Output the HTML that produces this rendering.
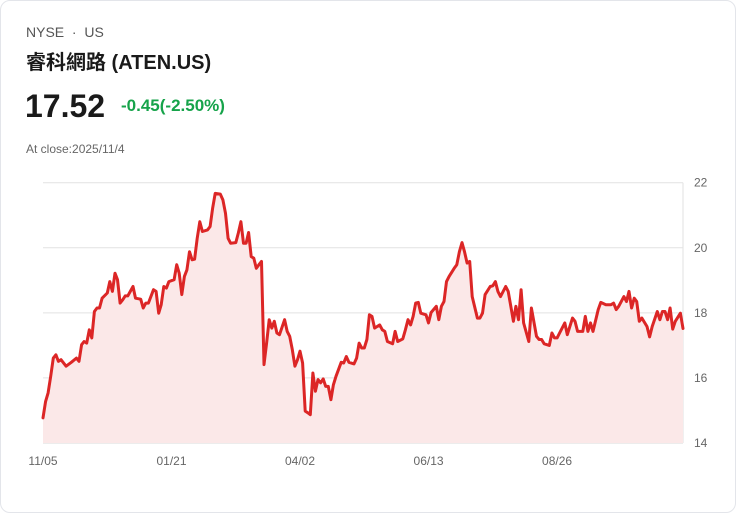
<!DOCTYPE html>
<html><head><meta charset="utf-8">
<style>
body{margin:0;background:#fff;font-family:"Liberation Sans","Noto Sans CJK TC",sans-serif;}
#card{position:absolute;left:0;top:0;width:734px;height:511px;border:1px solid #e3e5ea;border-radius:10px;background:#fff;}
.t{position:absolute;white-space:nowrap;}
</style></head><body>
<div id="card">
<div class="t" style="left:25px;top:23px;font-size:14px;color:#555;">NYSE &nbsp;·&nbsp; US</div>
<div class="t" style="left:25px;top:45px;font-size:20px;font-weight:bold;color:#1a1a1a;">睿科網路 (ATEN.US)</div>
<div class="t" style="left:24px;top:87px;font-size:32px;font-weight:bold;color:#1a1a1a;">17.52</div>
<div class="t" style="left:120px;top:95px;font-size:17px;font-weight:bold;color:#16a34a;">-0.45(-2.50%)</div>
<div class="t" style="left:25px;top:141px;font-size:12px;color:#666;">At close:2025/11/4</div>
<svg id="chart" width="736" height="513" style="position:absolute;left:-1px;top:-1px;"></svg>
</div>
<script>
const days=[0,1,2,3,4,5,6,7,9,11,13,14,15,16,17,18,19,20,21,22,23,25,26,27,28,29,30,31,32,33,35,36,38,39,40,41,43,44,45,46,47,48,49,51,52,53,54,55,56,57,58,59,60,61,62,64,65,66,67,69,70,71,72,73,75,76,77,78,79,80,81,82,83,84,85,86,87,88,89,90,91,92,94,95,96,97,98,99,100,101,102,103,104,105,106,107,108,109,110,111,112,113,114,116,117,118,119,121,122,123,124,125,126,127,128,129,131,132,133,134,136,137,138,140,141,142,143,144,145,146,147,149,150,151,153,154,155,156,157,158,160,161,162,163,164,165,166,167,169,170,171,172,174,175,176,177,178,180,181,182,183,184,185,186,187,189,190,192,193,194,195,197,198,199,200,201,203,204,206,207,208,210,211,212,213,214,216,217,219,221,222,223,224,226,227,228,229,230,231,232,233,235,236,237,239,240,241,242,243,244,245,246,248,249];
const prices=[14.77,15.28,15.54,16.05,16.61,16.71,16.51,16.56,16.36,16.48,16.61,16.51,17.02,17.12,17.07,17.48,17.23,18.04,18.15,18.15,18.45,18.61,18.96,18.66,19.22,19.02,18.30,18.40,18.52,18.52,18.81,18.45,18.42,18.15,18.30,18.30,18.71,18.66,17.99,18.25,18.81,18.76,18.96,19.02,19.48,19.22,18.56,19.12,19.32,19.88,19.63,19.65,20.29,20.80,20.50,20.55,20.65,21.21,21.67,21.65,21.47,21.06,20.29,20.14,20.16,20.45,20.80,20.14,20.14,20.47,19.73,19.68,19.37,19.48,19.58,16.41,17.07,17.79,17.53,17.74,17.38,17.33,17.79,17.43,17.28,16.87,16.36,16.56,16.82,16.46,14.98,14.93,14.87,16.15,15.59,15.95,15.85,15.97,15.74,15.74,15.33,15.79,16.05,16.48,16.46,16.66,16.48,16.43,16.61,17.07,16.92,16.92,17.18,17.94,17.89,17.53,17.63,17.48,17.43,17.12,17.05,17.43,17.12,17.20,17.48,17.79,17.63,17.89,18.30,18.32,17.99,17.94,17.69,18.01,18.20,17.79,18.20,18.35,18.96,19.12,19.37,19.48,19.88,20.16,19.88,19.53,19.58,18.50,17.84,17.84,17.99,18.56,18.81,18.83,18.96,18.66,18.50,18.81,18.66,18.20,17.74,18.20,17.79,18.71,17.69,17.12,18.15,17.28,17.18,17.18,17.05,17.00,17.38,17.23,17.23,17.38,17.69,17.33,17.84,17.74,17.43,17.43,17.89,17.43,17.69,17.43,18.10,18.32,18.25,18.25,18.30,18.10,18.20,18.50,18.35,18.66,18.15,18.45,18.35,17.74,17.84,17.58,17.26,17.58,18.04,17.79,18.04,18.04,17.79,18.15,17.50,17.74,17.99,17.52];
const yTicks=[14,16,18,20,22];
const xTickDays=[0,50,100,150,200];
const xTickLabels=["11/05","01/21","04/02","06/13","08/26"];
const NS="http://www.w3.org/2000/svg";
const svg=document.getElementById('chart');
const X0=43,X1=683,Y0=443,Y1=182.7,D0=0,D1=249,P0=14,P1=22;
const xs=d=>X0+(d-D0)/(D1-D0)*(X1-X0);
const ys=p=>Y0+(p-P0)/(P1-P0)*(Y1-Y0);
function mk(t,a){const e=document.createElementNS(NS,t);for(const k in a)e.setAttribute(k,a[k]);svg.appendChild(e);return e;}
yTicks.forEach(v=>{
 const l=mk('line',{x1:X0,x2:X1,y1:ys(v),y2:ys(v),stroke:v===14?'#d8d8d8':'#e2e2e2','stroke-width':1});
 
 
 const t=mk('text',{x:694,y:ys(v)+4,'font-size':12,fill:'#666','font-family':'Liberation Sans, sans-serif'});
 t.textContent=v;
 
 
});
const ax=mk('line',{x1:X1,x2:X1,y1:Y1,y2:Y0,stroke:'#e2e2e2','stroke-width':1});


xTickDays.forEach((d,i)=>{
 const t=mk('text',{x:xs(d),y:465,'font-size':12,fill:'#666','text-anchor':'middle','font-family':'Liberation Sans, sans-serif'});
 t.textContent=xTickLabels[i];
 
 
});
let pts=days.map((d,i)=>xs(d).toFixed(1)+','+ys(prices[i]).toFixed(1));
const area=mk('path',{d:'M'+xs(days[0])+','+Y0+' L'+pts.join(' L')+' L'+xs(days[days.length-1])+','+Y0+' Z',fill:'#fbe8e8'});


const line=mk('polyline',{points:pts.join(' '),fill:'none',stroke:'#dc2626','stroke-width':3,'stroke-linejoin':'round','stroke-linecap':'round'});


</script>
</body></html>
